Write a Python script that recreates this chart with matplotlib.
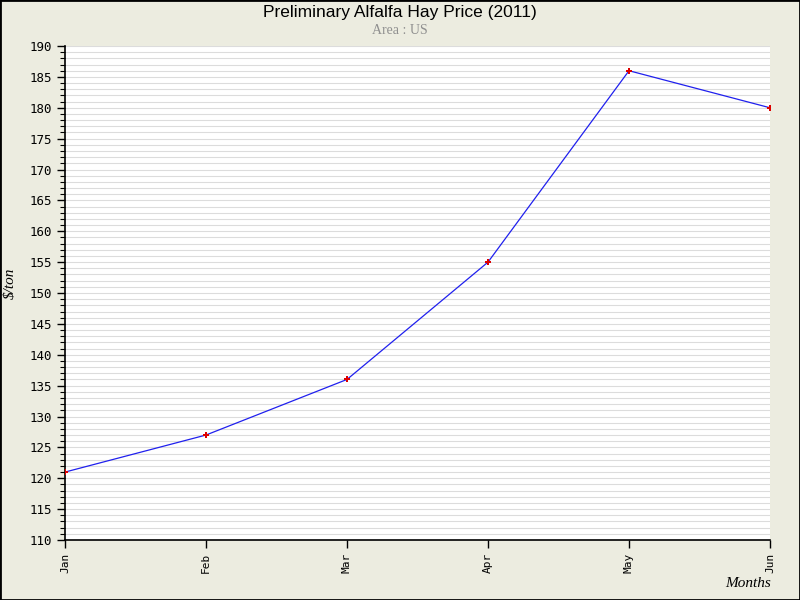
import matplotlib.pyplot as plt
from matplotlib.ticker import MultipleLocator

months = ['Jan', 'Feb', 'Mar', 'Apr', 'May', 'Jun']
prices = [121, 127, 136, 155, 186, 180]

bg = '#ECECE0'

fig = plt.figure(figsize=(8, 6), dpi=100, facecolor=bg)
fig.patches.append(plt.Rectangle((0, 0), 1, 1, transform=fig.transFigure,
                                 fill=False, edgecolor='black', linewidth=2))

ax = fig.add_axes([0.08125, 0.1, 0.88125, 0.8233])
ax.set_facecolor('white')

x = list(range(len(months)))
ax.plot(x, prices, color='#2020ee', linewidth=0.9, zorder=3)
ax.plot(x, prices, linestyle='none', marker='P', markersize=4,
        color='#dd0000', markeredgewidth=0, zorder=4)

ax.set_xlim(0, len(months) - 1)
ax.set_ylim(110, 190)
ax.set_xticks(x)
ax.set_xticklabels(months, rotation=90, fontsize=8, family='DejaVu Sans Mono')
ax.yaxis.set_major_locator(MultipleLocator(5))
ax.yaxis.set_minor_locator(MultipleLocator(1))
for lab in ax.get_yticklabels():
    lab.set_fontsize(9)
    lab.set_family('DejaVu Sans Mono')

ax.grid(True, which='both', axis='y', color='#dcdcdc', linewidth=0.8, zorder=0)
ax.set_axisbelow(True)
ax.tick_params(axis='both', which='major', length=6, width=1, direction='out', pad=3)
ax.tick_params(axis='y', which='minor', length=3.5, width=0.8, direction='out')

for side in ['top', 'right']:
    ax.spines[side].set_visible(False)
for side in ['left', 'bottom']:
    ax.spines[side].set_linewidth(1.2)

fig.text(0.5, 0.98, 'Preliminary Alfalfa Hay Price (2011)', ha='center', va='center',
         fontsize=12.5, family='Liberation Sans')
fig.text(0.5, 0.95, 'Area : US', ha='center', va='center',
         fontsize=10, family='Liberation Serif', color='#909090')
fig.text(0.013, 0.527, '$/ton', rotation=90, ha='center', va='center',
         fontsize=11, family='Liberation Serif', style='italic')
fig.text(0.964, 0.027, 'Months', ha='right', va='center',
         fontsize=11, family='Liberation Serif', style='italic')

fig.savefig('out.png', dpi=100, facecolor=bg)
